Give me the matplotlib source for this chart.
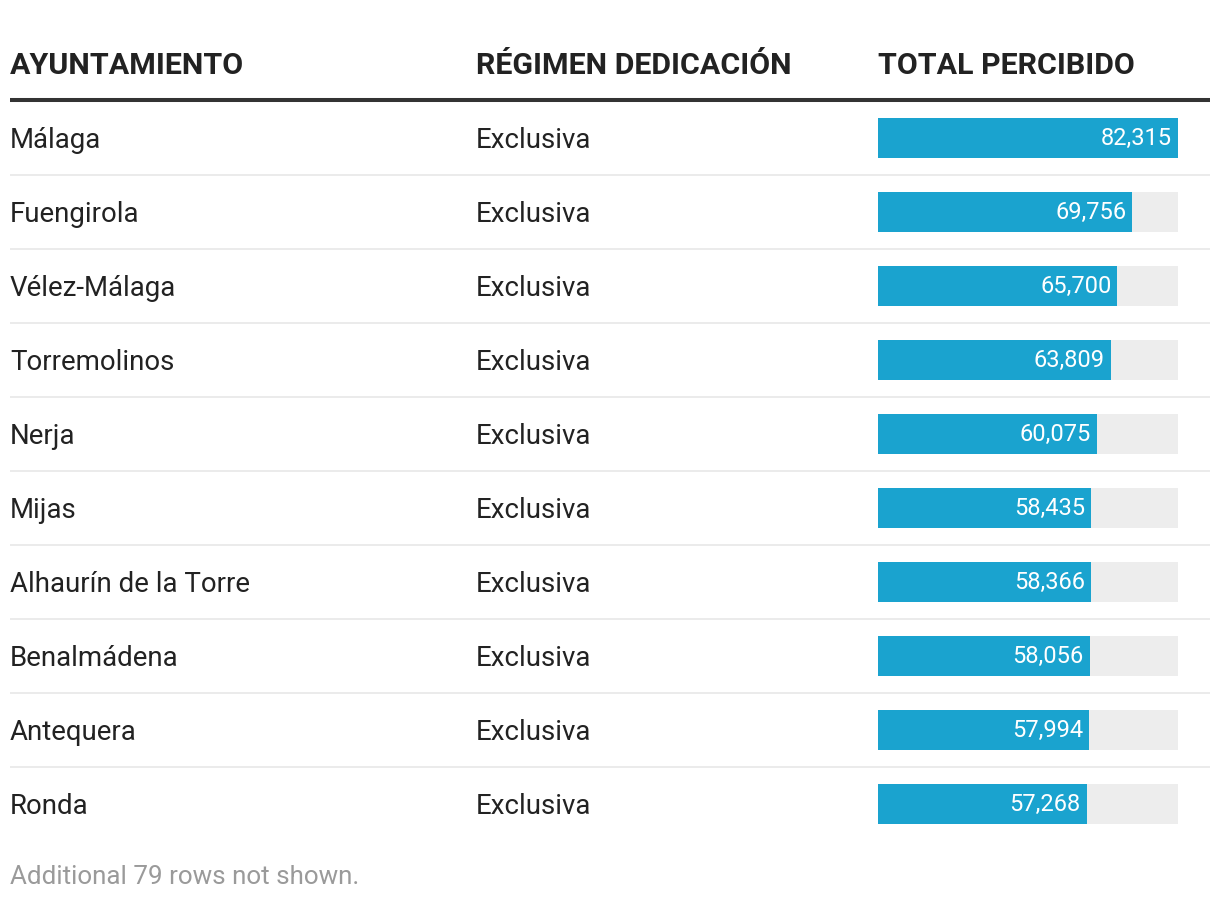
import matplotlib.pyplot as plt

ayuntamientos = ['Málaga', 'Fuengirola', 'Vélez-Málaga', 'Torremolinos', 'Nerja',
                 'Mijas', 'Alhaurín de la Torre', 'Benalmádena', 'Antequera', 'Ronda']
regimen = ['Exclusiva'] * 10
total = [82315, 69756, 65700, 63809, 60075, 58435, 58366, 58056, 57994, 57268]
headers = ['AYUNTAMIENTO', 'RÉGIMEN DEDICACIÓN', 'TOTAL PERCIBIDO']
nota = 'Additional 79 rows not shown.'

W, H = 1220, 900
plt.rcParams['font.family'] = ['Roboto', 'DejaVu Sans']

fig = plt.figure(figsize=(W / 100, H / 100), dpi=100)
ax = fig.add_axes([0, 0, 1, 1])
ax.set_xlim(0, W)
ax.set_ylim(H, 0)
ax.axis('off')

col_x = [10, 476, 878]
top = 101
row_h = 74
n = len(ayuntamientos)

# cabecera
for x, h in zip(col_x, headers):
    ax.text(x, 74, h, fontsize=21.9, fontweight='bold', color='#222222', va='baseline')
ax.plot([10, 1210], [100, 100], color='#333333', lw=2.9, solid_capstyle='butt')

# filas
for i in range(n):
    base = top + row_h * i + 47
    ax.text(col_x[0], base, ayuntamientos[i], fontsize=19.9, color='#222222', va='baseline')
    ax.text(col_x[1], base, regimen[i], fontsize=19.9, color='#222222', va='baseline')
    if i < n - 1:
        y = top + row_h * (i + 1)
        ax.plot([10, 1210], [y, y], color='#ebebeb', lw=1.4, solid_capstyle='butt')

ax.text(10, 884, nota, fontsize=18.7, color='#9a9a9a', va='baseline')

# barras
bx = fig.add_axes([878 / W, 1 - (top + row_h * n) / H, 300 / W, row_h * n / H])
bx.set_xlim(0, max(total))
bx.set_ylim(n - 0.5, -0.5)
bx.axis('off')
rows = list(range(n))
bx.barh(rows, [max(total)] * n, height=40 / row_h, color='#ededed')
bx.barh(rows, total, height=40 / row_h, color='#1aa3cf')
for i, v in enumerate(total):
    bx.annotate(f'{v:,}', (v, i), xytext=(-4.3, 0), textcoords='offset points',
                ha='right', va='center', color='white', fontsize=17)

fig.savefig('out.png', dpi=100)
